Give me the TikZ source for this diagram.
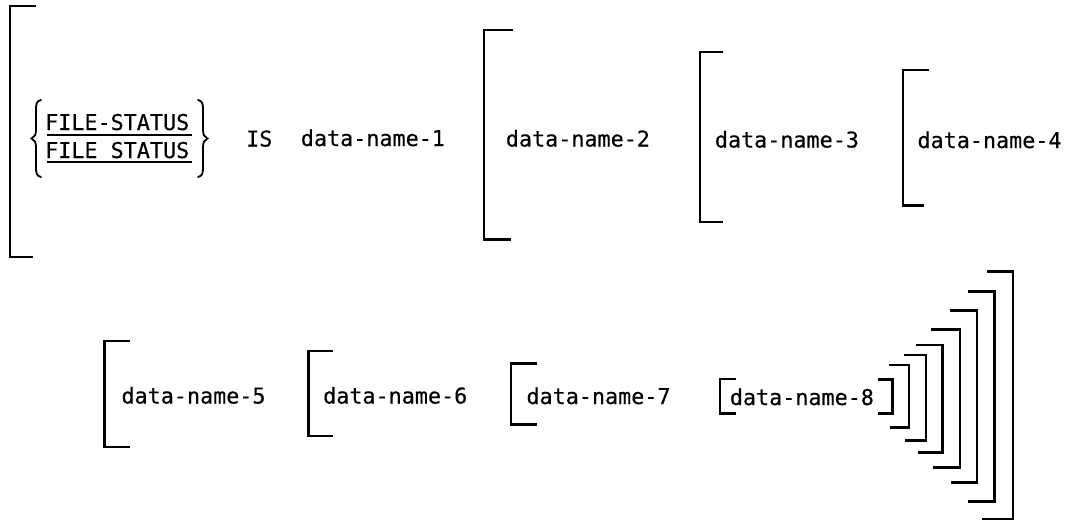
\documentclass[tikz,border=0pt]{standalone}
\usepackage{fontspec}
\newfontfamily\monofnt[FakeBold=0.3]{DejaVu Sans Mono}
\begin{document}
\begin{tikzpicture}[x=1pt,y=-1pt]
\tikzset{
  brk/.style={line width=2.3pt, line cap=butt, line join=miter},
  uline/.style={line width=1.8pt},
  brc/.style={line width=1.8pt, line cap=round},
  lbl/.style={font=\monofnt\fontsize{21.75}{26}\selectfont, inner sep=0pt, anchor=base west}
}
\useasboundingbox[fill=white] (0,0) rectangle (1071,523);

% ---- line 1 texts
\node[lbl] (fs1) at (45,130) {FILE-STATUS};
\node[lbl] (fs2) at (45,158) {FILE STATUS};
\node[lbl] (is)  at (246,146.5) {IS};
\node[lbl] (dn1) at (300.7,146) {data-name-1};
\node[lbl] (dn2) at (505.7,146.5) {data-name-2};
\node[lbl] (dn3) at (714.7,147.5) {data-name-3};
\node[lbl] (dn4) at (917.3,148) {data-name-4};

% ---- line 2 texts
\node[lbl] (dn5) at (121.3,403.5) {data-name-5};
\node[lbl] (dn6) at (323,403.5) {data-name-6};
\node[lbl] (dn7) at (526.3,404) {data-name-7};
\node[lbl] (dn8) at (729.7,405) {data-name-8};

% ---- underlines
\draw[uline] (47,135) -- (191.5,135);
\draw[uline] (47,161.7) -- (192,161.7);

% ---- braces
\draw[brc] (41,100) .. controls (36.5,101) and (36,104) .. (36,110) -- (36,130)
  .. controls (36,135) and (34.5,137) .. (31.5,138.5)
  .. controls (34.5,140) and (36,142) .. (36,147) -- (36,167)
  .. controls (36,173) and (36.5,176) .. (41,177);
\draw[brc] (198,100) .. controls (202.5,101) and (203,104) .. (203,110) -- (203,130)
  .. controls (203,135) and (204.5,137) .. (207.5,138.5)
  .. controls (204.5,140) and (203,142) .. (203,147) -- (203,167)
  .. controls (203,173) and (202.5,176) .. (198,177);

% ---- opening brackets
\draw[brk] (36,6) -- (10,6) -- (10,257) -- (33,257);
\draw[brk] (513,30) -- (484,30) -- (484,239.5) -- (511,239.5);
\draw[brk] (723,52) -- (700,52) -- (700,222) -- (723,222);
\draw[brk] (929,70) -- (903,70) -- (903,205.5) -- (924,205.5);
\draw[brk] (130,341) -- (104.5,341) -- (104.5,447) -- (130,447);
\draw[brk] (333,351) -- (308.5,351) -- (308.5,436) -- (333,436);
\draw[brk] (537,363.5) -- (511,363.5) -- (511,424.5) -- (537,424.5);
\draw[brk] (735.5,379) -- (720,379) -- (720,413.5) -- (735.5,413.5);

% ---- closing brackets
\draw[brk] (878,379.5) -- (892.5,379.5) -- (892.5,413.5) -- (877.5,413.5);
\draw[brk] (888.5,365) -- (909,365) -- (909,427.5) -- (890,427.5);
\draw[brk] (903.5,355) -- (926,355) -- (926,440.5) -- (904.5,440.5);
\draw[brk] (916,345) -- (942.5,345) -- (942.5,452.5) -- (917.5,452.5);
\draw[brk] (930.5,329.5) -- (960,329.5) -- (960,467.5) -- (932.5,467.5);
\draw[brk] (950,310.5) -- (977,310.5) -- (977,482.5) -- (951,482.5);
\draw[brk] (968,291.5) -- (994.5,291.5) -- (994.5,501.5) -- (968,501.5);
\draw[brk] (986.5,271.5) -- (1013,271.5) -- (1013,519) -- (982,519);
\end{tikzpicture}
\end{document}
